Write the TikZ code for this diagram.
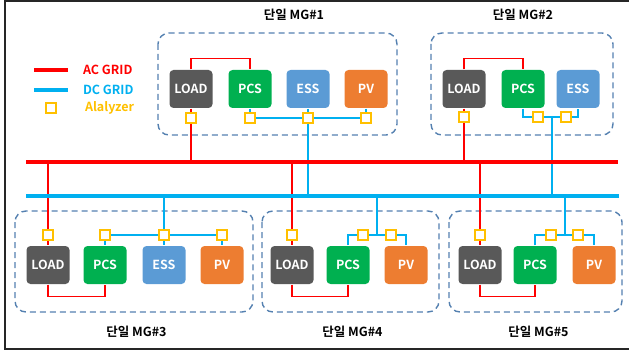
\documentclass[tikz,border=0pt]{standalone}
\usepackage{fontspec}
\setmainfont{Noto Sans CJK KR}[BoldFont={Noto Sans CJK KR Bold}]
\usepackage{tikz}
\usetikzlibrary{calc}
\definecolor{acred}{RGB}{255,0,0}
\definecolor{dcblue}{RGB}{0,176,240}
\definecolor{metergold}{RGB}{255,192,0}
\definecolor{loadgray}{RGB}{89,89,89}
\definecolor{pcsgreen}{RGB}{0,176,80}
\definecolor{essblue}{RGB}{91,155,213}
\definecolor{pvorange}{RGB}{237,125,49}
\definecolor{boxblue}{RGB}{84,128,176}
\tikzset{every path/.style={line width=1.4pt},
unit/.style={rounded corners=4pt, minimum width=43pt, minimum height=38pt, inner sep=0pt, text=white, font=\bfseries\fontsize{12.5}{13}\selectfont},
load/.style={unit, fill=loadgray},
pcs/.style={unit, fill=pcsgreen},
ess/.style={unit, fill=essblue},
pv/.style={unit, fill=pvorange},
meter/.style={draw=metergold, fill=white, line width=2pt, minimum size=10pt, inner sep=0pt},
acline/.style={draw=acred},
dcline/.style={draw=dcblue},
bus/.style={line width=4pt},
mgbox/.style={draw=boxblue, dash pattern=on 6pt off 4pt, rounded corners=11pt, line width=1.4pt},
mgtitle/.style={font=\bfseries\fontsize{12.5}{13}\selectfont},
legtext/.style={anchor=west, font=\bfseries\fontsize{12.5}{13}\selectfont}}

\begin{document}
\begin{tikzpicture}[x=1pt,y=-1pt]
\useasboundingbox (0,0) rectangle (629,350);
\draw[line width=2pt, black!85] (640,1) -- (5,1) -- (5,349) -- (640,349);

% legend
\coordinate (legA1) at (34,70); \coordinate (legA2) at (68,70);
\coordinate (legD1) at (34,90); \coordinate (legD2) at (68,90);
\draw[acline, bus] (legA1) -- (legA2);
\draw[dcline, bus] (legD1) -- (legD2);
\node[meter] (legM) at (51,108) {};
\node[legtext, text=acred] (legAC) at (79,70) {AC GRID};
\node[legtext, text=dcblue] (legDC) at (79,90) {DC GRID};
\node[legtext, text=metergold] (legAN) at (81,108) {Alalyzer};

% buses
\coordinate (acL) at (26,162); \coordinate (acR) at (618,162);
\coordinate (dcL) at (26,196); \coordinate (dcR) at (619,196);

% MG#1
\draw[mgbox] (158,33) rectangle (397,135);
\node[mgtitle] (t1) at (294,15) {단일 MG\#1};
\node[load] (l1) at (191,89) {LOAD};
\node[pcs] (p1) at (250,89) {PCS};
\node[ess] (e1) at (308,89) {ESS};
\node[pv] (v1) at (366,89) {PV};
\node[meter] (ml1) at (191,118) {};
\node[meter] (mp1) at (250,118) {};
\node[meter] (me1) at (308,118) {};
\node[meter] (mv1) at (366,118) {};
\draw[acline] (l1.north) -- ++(0,-11) -| (p1.north);
\draw[acline] (l1.south) -- (ml1.north);
\draw[acline] (ml1.south) -- (ml1.south |- acL);
\draw[dcline] (p1.south) -- (mp1.north);
\draw[dcline] (e1.south) -- (me1.north);
\draw[dcline] (v1.south) -- (mv1.north);
\draw[dcline] (mp1) -- (me1) -- (mv1);
\draw[dcline] (me1.south) -- (me1.south |- dcL);

% MG#2
\draw[mgbox] (431,33) rectangle (613,135);
\node[mgtitle] (t2) at (523,15) {단일 MG\#2};
\node[load] (l2) at (464,89) {LOAD};
\node[pcs] (p2) at (523,89) {PCS};
\node[ess] (e2) at (578,89) {ESS};
\node[meter] (ml2) at (464,117) {};
\node[meter] (mp2) at (538,117) {};
\node[meter] (me2) at (566,117) {};
\coordinate (j2) at (552,117);
\draw[acline] (l2.north) -- ++(0,-11) -| (p2.north);
\draw[acline] (l2.south) -- (ml2.north);
\draw[acline] (ml2.south) -- (ml2.south |- acL);
\draw[dcline] (p2.south) |- (mp2.west);
\draw[dcline] (mp2) -- (me2);
\draw[dcline] (me2.east) -| (e2.south);
\draw[dcline] (j2) -- (j2 |- dcL);

% MG#3
\draw[mgbox] (15,211) rectangle (253,312);
\node[mgtitle] (t3) at (136.5,332) {단일 MG\#3};
\node[load] (l3) at (48,265) {LOAD};
\node[pcs] (p3) at (105,265) {PCS};
\node[ess] (e3) at (164,265) {ESS};
\node[pv] (v3) at (222,265) {PV};
\node[meter] (ml3) at (48,235) {};
\node[meter] (mp3) at (105,235) {};
\node[meter] (me3) at (164,235) {};
\node[meter] (mv3) at (222,235) {};
\draw[acline] (ml3.north) -- (ml3.north |- acL);
\draw[acline] (ml3.south) -- (l3.north);
\draw[acline] (l3.south) -- ++(0,12) -| (p3.south);
\draw[dcline] (mp3.south) -- (p3.north);
\draw[dcline] (me3.south) -- (e3.north);
\draw[dcline] (mv3.south) -- (v3.north);
\draw[dcline] (mp3) -- (me3) -- (mv3);
\draw[dcline] (me3.north) -- (me3.north |- dcL);

% MG#4
\draw[mgbox] (262,211) rectangle (439,312);
\node[mgtitle] (t4) at (352.5,332) {단일 MG\#4};
\node[load] (l4) at (292,265) {LOAD};
\node[pcs] (p4) at (348,265) {PCS};
\node[pv] (v4) at (406,265) {PV};
\node[meter] (ml4) at (292,235) {};
\node[meter] (mp4) at (363,235) {};
\node[meter] (mv4) at (391,235) {};
\coordinate (j4) at (377,235);
\draw[acline] (ml4.north) -- (ml4.north |- acL);
\draw[acline] (ml4.south) -- (l4.north);
\draw[acline] (l4.south) -- ++(0,12) -| (p4.south);
\draw[dcline] (p4.north) |- (mp4.west);
\draw[dcline] (mp4) -- (mv4);
\draw[dcline] (mv4.east) -| (v4.north);
\draw[dcline] (j4) -- (j4 |- dcL);

% MG#5
\draw[mgbox] (449,211) rectangle (622,312);
\node[mgtitle] (t5) at (538.5,332) {단일 MG\#5};
\node[load] (l5) at (480,265) {LOAD};
\node[pcs] (p5) at (535,265) {PCS};
\node[pv] (v5) at (594,265) {PV};
\node[meter] (ml5) at (480,235) {};
\node[meter] (mp5) at (551,235) {};
\node[meter] (mv5) at (578,235) {};
\coordinate (j5) at (565,235);
\draw[acline] (ml5.north) -- (ml5.north |- acL);
\draw[acline] (ml5.south) -- (l5.north);
\draw[acline] (l5.south) -- ++(0,12) -| (p5.south);
\draw[dcline] (p5.north) |- (mp5.west);
\draw[dcline] (mp5) -- (mv5);
\draw[dcline] (mv5.east) -| (v5.north);
\draw[dcline] (j5) -- (j5 |- dcL);

% grid buses on top
\draw[acline, bus] (acL) -- (acR);
\draw[dcline, bus] (dcL) -- (dcR);
\end{tikzpicture}
\end{document}
